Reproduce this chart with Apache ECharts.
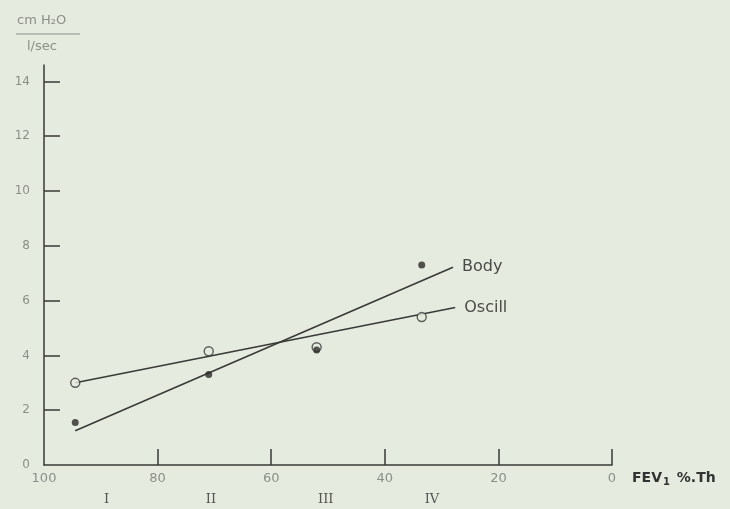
<!DOCTYPE html>
<html>
<head>
<meta charset="utf-8">
<script src="https://cdn.jsdelivr.net/npm/echarts@6/dist/echarts.min.js"></script>
<style>
  html, body { margin: 0; padding: 0; background: #e5ebdf; }
  #chart { width: 730px; height: 509px; }
</style>
</head>
<body>
<div id="chart"></div>
<script>
// FEV1 % of theoretical for the four groups
var fevValues = [94.5, 71, 52, 33.5];
var oscillValues = [3.0, 4.15, 4.3, 5.4];
var bodyValues = [1.55, 3.3, 4.2, 7.3];
// fitted lines (ends)
var oscillFit = [[94.5, 3.0], [27.6, 5.75]];
var bodyFit = [[94.5, 1.25], [28, 7.22]];
var xTicks = [100, 80, 60, 40, 20, 0];
var yTicks = [0, 2, 4, 6, 8, 10, 12, 14];
var stagePos = [89, 70.6, 50.4, 31.7];
var stageNames = ['I', 'II', 'III', 'IV'];

var ink = '#3a3a38',
  grey = '#8c8f88',
  bg = '#e5ebdf';

function pairs(xs, ys) {
  return xs.map(function (x, i) { return [x, ys[i]]; });
}

function fitSeries(name, data) {
  return {
    name: name,
    type: 'line',
    data: data,
    symbol: 'circle',
    symbolSize: 0,
    showSymbol: true,
    lineStyle: { color: ink, width: 1.6 },
    label: {
      show: true,
      position: 'right',
      distance: 9,
      color: '#4a4a48',
      fontSize: 16,
      fontFamily: 'DejaVu Sans',
      formatter: function (p) { return p.dataIndex === data.length - 1 ? name : ''; }
    }
  };
}

var myChart = echarts.init(document.getElementById('chart'));
var option = {
  backgroundColor: bg,
  animation: false,
  grid: { left: 44, right: 118, top: 65, bottom: 44, outerBoundsMode: 'none' },
  xAxis: [{
    type: 'value',
    inverse: true,
    min: 0,
    max: 100,
    interval: 20,
    axisLine: { onZero: false, lineStyle: { color: ink, width: 1.5 } },
    axisTick: { inside: true, length: 16, customValues: xTicks.slice(1), lineStyle: { color: ink, width: 1.5 } },
    axisLabel: { color: grey, fontSize: 13, fontFamily: 'DejaVu Sans', margin: 7, customValues: xTicks },
    splitLine: { show: false },
    name: '{a|FEV}{s|1}{a| %.Th}',
    nameLocation: 'start',
    nameGap: 20,
    nameTextStyle: {
      verticalAlign: 'middle',
      padding: [26, 0, 0, 0],
      rich: {
        a: { color: '#333', fontSize: 14, fontWeight: 'bold', fontFamily: 'DejaVu Sans' },
        s: { color: '#333', fontSize: 10, fontWeight: 'bold', fontFamily: 'DejaVu Sans', verticalAlign: 'bottom', padding: [8, 2, 0, 1] }
      }
    }
  }, {
    type: 'value',
    inverse: true,
    min: 0,
    max: 100,
    position: 'bottom',
    offset: 20,
    axisLine: { show: false },
    axisTick: { show: false },
    splitLine: { show: false },
    axisLabel: {
      customValues: stagePos,
      color: '#555',
      fontSize: 13,
      fontFamily: 'DejaVu Serif',
      formatter: function (v) {
        var i = stagePos.indexOf(v);
        return i >= 0 ? stageNames[i] : '';
      }
    }
  }],
  yAxis: {
    type: 'value',
    position: 'left',
    min: 0,
    max: 14.6,
    axisLine: { show: true, onZero: false, lineStyle: { color: ink, width: 1.5 } },
    axisTick: { show: true, inside: true, length: 16, customValues: yTicks.slice(1), lineStyle: { color: ink, width: 1.5 } },
    axisLabel: { color: grey, fontSize: 12, fontFamily: 'DejaVu Sans', margin: 14, customValues: yTicks },
    splitLine: { show: false }
  },
  graphic: [
    { type: 'text', left: 17, top: 14, style: { text: 'cm H₂O', fill: grey, font: '13px DejaVu Sans' } },
    { type: 'line', shape: { x1: 16, y1: 34, x2: 80, y2: 34 }, style: { stroke: grey, lineWidth: 1 } },
    { type: 'text', left: 27, top: 40, style: { text: 'l/sec', fill: grey, font: '13px DejaVu Sans' } }
  ],
  series: [
    fitSeries('Oscill', oscillFit),
    fitSeries('Body', bodyFit),
    {
      name: 'Oscill points',
      type: 'scatter',
      data: pairs(fevValues, oscillValues),
      symbol: 'circle',
      symbolSize: 9,
      itemStyle: { color: bg, borderColor: ink, borderWidth: 1.4 },
      z: 3
    },
    {
      name: 'Body points',
      type: 'scatter',
      data: pairs(fevValues, bodyValues),
      symbol: 'circle',
      symbolSize: 7,
      itemStyle: { color: '#2a2a28' },
      z: 4
    }
  ]
};
myChart.setOption(option, true);
</script>
</body>
</html>
